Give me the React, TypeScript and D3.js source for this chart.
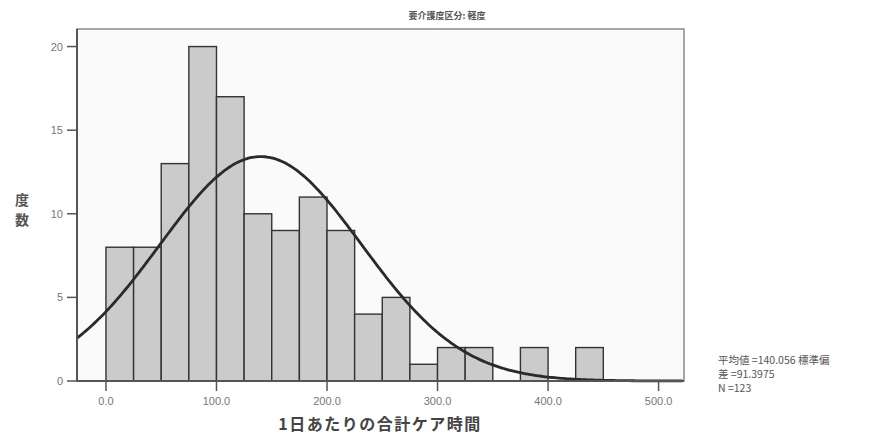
import React from "react";
import * as d3 from "d3";

const binStarts = [0, 25, 50, 75, 100, 125, 150, 175, 200, 225, 250, 275, 300, 325, 350, 375, 400, 425];
const counts = [8, 8, 13, 20, 17, 10, 9, 11, 9, 4, 5, 1, 2, 2, 0, 2, 0, 2];
const binWidth = 25;
const xTicks = [0, 100, 200, 300, 400, 500];
const yTicks = [0, 5, 10, 15, 20];
const meanVal = 140.056;
const sdVal = 91.3975;
const nVal = 123;
const title = "要介護度区分: 軽度";
const xTitle = "1日あたりの合計ケア時間";
const yTitleChars = ["度", "数"];
const statLines = ["平均値 =140.056 標準偏", "差 =91.3975", "N =123"];

const W = 893;
const H = 438;
const left = 77;
const right = 684;
const top = 29;
const bottom = 381;

export default function App() {
  const x = d3.scaleLinear().domain([-26.2, 523]).range([left, right]);
  const y = d3.scaleLinear().domain([0, 21.05]).range([bottom, top]);

  const scale = nVal * binWidth / (sdVal * Math.sqrt(2 * Math.PI));
  const curvePts: [number, number][] = d3.range(-26.2, 523.01, 2).map((v) => [
    v,
    scale * Math.exp(-0.5 * ((v - meanVal) / sdVal) ** 2),
  ]);
  const line = d3
    .line<[number, number]>()
    .x((d) => x(d[0]))
    .y((d) => y(d[1]))
    .curve(d3.curveBasis);

  const jp = "'Noto Sans CJK JP', 'Noto Sans', sans-serif";
  const num = "'Liberation Sans', Arial, sans-serif";

  return (
    <svg width={W} height={H} style={{ position: "absolute", left: 0, top: 0, background: "#fff" }}>
      <rect x={0} y={0} width={W} height={H} fill="#fff" />
      <text x={447} y={19} textAnchor="middle" fontFamily={jp} fontSize={9} fontWeight="bold" fill="#555">
        {title}
      </text>
      <rect x={left} y={top} width={right - left} height={bottom - top} fill="#fafafa" stroke="#8a8a8a" strokeWidth={1.5} />
      {binStarts.map((b, i) =>
        counts[i] > 0 ? (
          <rect
            key={i}
            x={x(b)}
            y={y(counts[i])}
            width={x(b + binWidth) - x(b)}
            height={y(0) - y(counts[i])}
            fill="#cbcbcb"
            stroke="#333"
            strokeWidth={1.4}
          />
        ) : null
      )}
      <path d={line(curvePts) || ""} fill="none" stroke="#2a2a2a" strokeWidth={2.8} />
      <line x1={left} x2={left} y1={top} y2={bottom} stroke="#555" strokeWidth={2} />
      <line x1={left} x2={right} y1={bottom} y2={bottom} stroke="#555" strokeWidth={2} />
      {yTicks.map((t) => (
        <g key={t}>
          <line x1={left - 10} x2={left} y1={y(t)} y2={y(t)} stroke="#555" strokeWidth={1.5} />
          <text x={left - 14} y={y(t) + 4} textAnchor="end" fontFamily={num} fontSize={11} fill="#777">
            {t}
          </text>
        </g>
      ))}
      {xTicks.map((t) => (
        <g key={t}>
          <line x1={x(t)} x2={x(t)} y1={bottom} y2={bottom + 10} stroke="#555" strokeWidth={1.5} />
          <text x={x(t)} y={bottom + 24} textAnchor="middle" fontFamily={num} fontSize={11} fill="#777">
            {t.toFixed(1)}
          </text>
        </g>
      ))}
      {yTitleChars.map((c, i) => (
        <text key={c} x={22} y={205 + i * 20} textAnchor="middle" fontFamily={jp} fontSize={14} fontWeight="bold" fill="#555">
          {c}
        </text>
      ))}
      <text x={380} y={430} textAnchor="middle" fontFamily={jp} fontSize={16} fontWeight="bold" fill="#444" letterSpacing={1.5}>
        {xTitle}
      </text>
      {statLines.map((s, i) => (
        <text key={i} x={718} y={364 + i * 14} fontFamily={jp} fontSize={10.5} fill="#555">
          {s}
        </text>
      ))}
    </svg>
  );
}
